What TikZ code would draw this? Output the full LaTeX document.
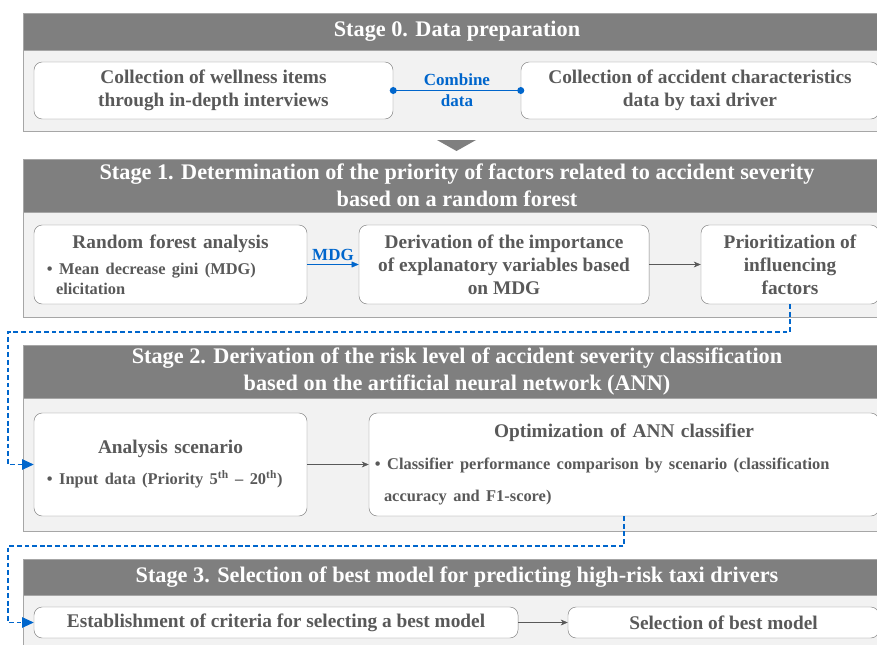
\documentclass[tikz,border=0pt]{standalone}
\usepackage{fontspec}
\setmainfont{Liberation Serif}
\usetikzlibrary{arrows.meta}
\definecolor{headgray}{RGB}{127,127,127}
\definecolor{bodygray}{RGB}{242,242,242}
\definecolor{panelgray}{RGB}{166,166,166}
\definecolor{boxgray}{RGB}{127,127,127}
\definecolor{txtgray}{RGB}{89,89,89}
\definecolor{linkblue}{RGB}{0,102,204}
\tikzset{
  stagehead/.style={fill=headgray, draw=panelgray, text=white, align=center, minimum width=26.04cm, inner sep=0pt, font=\fontsize{19}{23}\selectfont\bfseries},
  stagebody/.style={fill=bodygray, draw=panelgray},
  box/.style={draw=boxgray, fill=white, rounded corners=7pt, text=txtgray, align=center, inner sep=0pt, font=\fontsize{16.5}{19.5}\selectfont\bfseries},
  flow/.style={draw=txtgray, -{Stealth[length=6pt,width=5pt]}},
  mdgflow/.style={draw=linkblue, -{Triangle[length=6pt,width=5pt]}},
  bluelink/.style={draw=linkblue, line width=0.9pt, dash pattern=on 4pt off 2.5pt, -{Triangle[length=10pt,width=9pt]}},
  bluetag/.style={text=linkblue, align=center, font=\fontsize{14.5}{18}\selectfont\bfseries},
}
\begin{document}
\begin{tikzpicture}[x=0.03cm,y=-0.03cm]
\clip (0,0) rectangle (877,644);
\fill[white] (0,0) rectangle (877,644);
\draw[stagebody] (23,50) rectangle (891,131);
\node[stagehead, minimum height=1.11cm] (h0) at (457,31.5) {Stage 0. Data preparation};
\node[box, minimum width=10.77cm, minimum height=1.71cm] (wi) at (213.5,90.5) {Collection of wellness items\\through in-depth interviews};
\node[box, minimum width=10.74cm, minimum height=1.71cm] (ac) at (700,90.5) {Collection of accident characteristics\\data by taxi driver};
\draw[linkblue] (wi.east) -- node[bluetag] (cd) {Combine\\data} (ac.west);
\fill[linkblue] (wi.east) circle (3pt);
\fill[linkblue] (ac.west) circle (3pt);
\fill[headgray] (437,140) -- (476,140) -- (456.5,151) -- cycle;
\draw[stagebody] (23,212) rectangle (891,317);
\node[stagehead, minimum height=1.59cm] (h1) at (457,185.5) {Stage 1. Determination of the priority of factors related to accident severity\\based on a random forest};
\node[box, minimum width=8.19cm, minimum height=2.37cm, text width=7.41cm] (rf) at (170.5,264.5) {Random forest analysis\par\vspace{6pt}{\fontsize{14}{16.5}\selectfont\raggedright\textbullet\ Mean decrease gini (MDG)\par\hspace*{0.55em}elicitation\par}};
\node[box, minimum width=8.7cm, minimum height=2.37cm] (dv) at (504,264.5) {Derivation of the importance\\of explanatory variables based\\on MDG};
\node[box, minimum width=5.34cm, minimum height=2.37cm] (pr) at (790,264.5) {Prioritization of\\influencing\\factors};
\draw[mdgflow] (rf) -- node[bluetag, above] (mg) {MDG} (dv);
\draw[flow] (dv) -- (pr);
\draw[stagebody] (23,398) rectangle (891,531);
\node[stagehead, minimum height=1.59cm] (h2) at (457,371.5) {Stage 2. Derivation of the risk level of accident severity classification\\based on the artificial neural network (ANN)};
\node[box, minimum width=8.19cm, minimum height=3.09cm, text width=7.41cm] (an) at (170.5,464.5) {Analysis scenario\par\vspace{10pt}{\fontsize{14}{16.5}\selectfont\raggedright\textbullet\ Input data (Priority 5\textsuperscript{th} -- 20\textsuperscript{th})\par}};
\node[box, minimum width=15.3cm, minimum height=3.09cm, text width=14.94cm] (op) at (624,464.5) {Optimization of ANN classifier\par{\fontsize{14}{27.5}\selectfont\raggedright\textbullet\ Classifier performance comparison by scenario (classification\par\hspace*{0.55em}accuracy and F1-score)\par}};
\draw[flow] (an) -- (op);
\draw[bluelink] (pr.south) |- (8,332) |- (an.west);
\draw[stagebody] (23,595) rectangle (891,660);
\node[stagehead, minimum height=1.08cm] (h3) at (457,577) {Stage 3. Selection of best model for predicting high-risk taxi drivers};
\node[box, minimum width=14.52cm, minimum height=0.93cm] (cr) at (276,622.5) {Establishment of criteria for selecting a best model};
\node[box, minimum width=9.33cm, minimum height=0.93cm] (sb) at (723.5,622.5) {Selection of best model};
\draw[flow] (cr) -- (sb);
\draw[bluelink] (op.south) |- (8,546) |- (cr.west);
\end{tikzpicture}
\end{document}
